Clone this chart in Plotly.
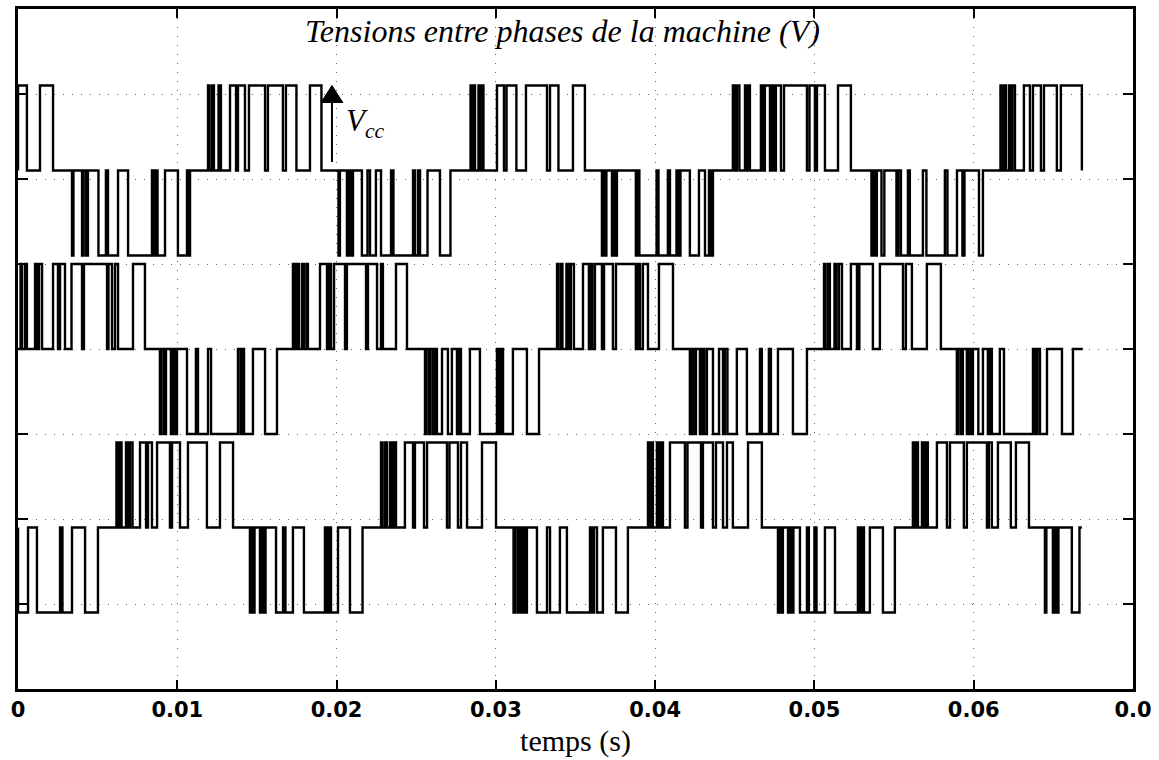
import plotly.graph_objects as go

# ---------------- axis ticks ----------------
x_tickvals = [0, 0.01, 0.02, 0.03, 0.04, 0.05, 0.06, 0.07]
x_ticktext = ["0", "0.01", "0.02", "0.03", "0.04", "0.05", "0.06", "0.0"]
y_tickvals = [-3, -2, -1, 0, 1, 2, 3]

# vertical offsets of the three line-to-line voltages (in units of Vcc)
offsets = [2.1, 0.0, -2.1]
# end time of the recorded traces (ms)
t_end_ms = [66.79, 66.85, 66.79]

# ---------------- PWM pulses ----------------
# (start ms, end ms, level in Vcc)
vab_pulses = [
    (0.00, 0.56, 1), (1.38, 2.20, 1),
    (3.39, 3.48, -1), (4.02, 4.11, -1), (4.27, 4.39, -1), (5.05, 5.52, -1), (5.65, 6.28, -1),
    (6.91, 8.41, -1), (8.54, 8.64, -1), (8.76, 9.23, -1), (10.04, 10.61, -1), (10.68, 10.80, -1),
    (11.93, 12.02, 1), (12.18, 12.30, 1), (12.59, 12.74, 1), (13.31, 13.69, 1), (13.81, 14.25, 1),
    (14.50, 15.51, 1), (15.69, 16.63, 1), (16.82, 17.48, 1), (18.33, 19.05, 1),
    (20.12, 20.21, -1), (20.65, 20.78, -1), (20.90, 21.03, -1), (21.59, 21.94, -1), (22.10, 22.47, -1),
    (22.79, 23.42, -1), (23.57, 24.80, -1), (24.92, 25.11, -1), (25.24, 25.71, -1), (26.49, 27.15, -1),
    (28.41, 28.47, 1), (28.59, 28.69, 1), (28.91, 29.00, 1), (29.10, 29.22, 1), (30.07, 30.51, 1),
    (30.67, 31.29, 1), (31.89, 33.21, 1), (33.40, 33.93, 1), (34.84, 35.59, 1),
    (36.66, 36.75, -1), (36.85, 36.94, -1), (37.29, 37.38, -1), (37.48, 37.60, -1), (38.79, 38.89, -1),
    (39.01, 40.09, -1), (40.21, 40.80, -1), (40.93, 41.34, -1), (41.46, 41.59, -1), (42.18, 42.75, -1),
    (43.13, 43.38, -1), (43.50, 43.63, -1),
    (44.88, 44.98, 1), (45.13, 45.29, 1), (45.64, 45.73, 1), (45.83, 45.95, 1), (46.64, 46.77, 1),
    (46.89, 47.21, 1), (47.36, 47.46, 1), (47.58, 47.90, 1), (48.09, 49.53, 1), (49.69, 50.03, 1),
    (50.16, 50.66, 1), (51.48, 52.29, 1),
    (53.58, 53.67, -1), (53.80, 53.92, -1), (54.21, 54.39, -1), (55.15, 55.27, -1), (55.43, 55.87, -1),
    (55.99, 56.81, -1), (57.03, 58.19, -1), (58.35, 58.95, -1), (59.29, 59.42, -1), (60.33, 60.58, -1),
    (61.68, 61.77, 1), (61.90, 62.02, 1), (62.21, 62.30, 1), (62.43, 62.59, 1), (63.15, 63.53, 1),
    (63.72, 64.22, 1), (64.41, 65.22, 1), (65.47, 66.79, 1),
]

vbc_pulses = [
    (0.16, 0.25, 1), (0.44, 0.56, 1), (1.07, 1.19, 1), (1.32, 1.51, 1), (2.20, 2.51, 1),
    (2.64, 2.95, 1), (3.36, 4.02, 1), (4.14, 5.59, 1), (5.68, 5.90, 1), (6.09, 6.28, 1), (7.22, 7.97, 1),
    (8.91, 9.01, -1), (9.17, 9.29, -1), (9.60, 9.73, -1), (9.86, 9.98, -1), (10.61, 11.17, -1),
    (11.30, 11.93, -1), (12.12, 13.81, -1), (13.97, 14.06, -1), (14.19, 14.75, -1), (15.51, 16.26, -1),
    (17.26, 17.36, 1), (17.51, 17.64, 1), (17.83, 17.95, 1), (18.11, 18.20, 1), (18.96, 19.40, 1),
    (19.52, 19.65, 1), (19.84, 20.53, 1), (20.65, 21.85, 1), (21.97, 22.54, 1), (22.79, 22.91, 1),
    (23.73, 24.42, 1),
    (25.55, 25.64, -1), (25.80, 25.89, -1), (26.05, 26.18, -1), (26.30, 26.62, -1), (26.99, 27.24, -1),
    (27.56, 27.68, -1), (27.81, 28.37, -1), (29.00, 30.07, -1), (30.19, 30.32, -1), (30.45, 31.07, -1),
    (31.95, 32.71, -1),
    (33.84, 33.93, 1), (34.09, 34.18, 1), (34.43, 34.56, 1), (34.71, 34.90, 1), (35.47, 35.84, 1),
    (35.97, 36.06, 1), (36.22, 36.66, 1), (36.79, 37.35, 1), (37.54, 38.79, 1), (38.92, 39.05, 1),
    (39.23, 39.55, 1), (40.24, 41.12, 1),
    (42.18, 42.28, -1), (42.43, 42.56, -1), (42.81, 42.94, -1), (43.09, 43.25, -1), (43.63, 44.01, -1),
    (44.26, 44.38, -1), (44.54, 45.13, -1), (45.76, 46.58, -1), (46.70, 47.14, -1), (47.27, 47.71, -1),
    (48.65, 49.53, -1),
    (50.60, 50.69, 1), (50.85, 50.97, 1), (51.26, 51.38, 1), (51.54, 51.73, 1), (52.29, 52.67, 1),
    (52.82, 53.67, 1), (54.11, 55.56, 1), (55.74, 56.12, 1), (57.06, 57.94, 1),
    (58.94, 59.04, -1), (59.20, 59.32, -1), (59.57, 59.70, -1), (59.82, 59.95, -1), (60.29, 60.58, -1),
    (60.89, 61.02, -1), (61.14, 61.64, -1), (61.90, 63.72, -1), (63.87, 64.00, -1), (64.16, 64.60, -1),
    (65.54, 66.23, -1),
]

vca_pulses = [
    (0.00, 0.63, -1), (1.19, 2.64, -1), (2.79, 3.39, -1), (4.21, 5.02, -1),
    (6.18, 6.28, 1), (6.40, 6.50, 1), (6.78, 6.91, 1), (7.03, 7.19, 1), (7.66, 8.04, 1),
    (8.16, 8.41, 1), (8.73, 9.54, 1), (9.67, 10.17, 1), (10.67, 11.86, 1), (12.68, 13.50, 1),
    (14.56, 14.66, -1), (14.75, 14.85, -1), (15.19, 15.32, -1), (15.41, 15.54, -1), (16.20, 16.64, -1),
    (16.79, 17.26, -1), (17.95, 19.27, -1), (19.40, 19.52, -1), (19.65, 20.09, -1), (20.84, 21.63, -1),
    (22.79, 22.88, 1), (23.04, 23.16, 1), (23.35, 23.48, 1), (23.60, 23.73, 1), (24.29, 24.80, 1),
    (24.92, 25.49, 1), (25.68, 26.93, 1), (27.09, 27.62, 1), (27.81, 28.19, 1), (29.13, 30.01, 1),
    (31.11, 31.20, -1), (31.36, 31.48, -1), (31.57, 31.70, -1), (31.80, 31.95, -1), (32.58, 33.21, -1),
    (33.40, 34.02, -1), (34.46, 35.91, -1), (36.03, 36.16, -1), (36.35, 36.72, -1), (37.54, 38.29, -1),
    (39.55, 39.64, 1), (39.77, 39.86, 1), (40.11, 40.24, 1), (40.36, 40.49, 1), (40.93, 41.87, 1),
    (42.03, 42.88, 1), (43.00, 43.63, 1), (43.82, 44.26, 1), (44.51, 44.88, 1), (45.83, 46.70, 1),
    (47.71, 47.80, -1), (47.93, 48.02, -1), (48.34, 48.46, -1), (48.56, 48.68, -1), (49.09, 49.53, -1),
    (49.65, 50.00, -1), (50.13, 50.66, -1), (51.29, 52.73, -1), (52.86, 52.98, -1), (53.11, 53.48, -1),
    (54.30, 55.05, -1),
    (56.18, 56.28, 1), (56.40, 56.50, 1), (56.75, 56.87, 1), (57.00, 57.12, 1), (57.69, 58.32, 1),
    (58.51, 59.38, 1), (59.57, 60.83, 1), (60.95, 61.14, 1), (61.52, 62.33, 1), (62.65, 63.47, 1),
    (64.47, 64.56, -1), (64.97, 65.10, -1), (65.19, 65.32, -1), (66.16, 66.64, -1),
]

# Vcc arrow (data coordinates) and label
vcc_arrow_t = 0.01971
vcc_arrow_from = 2.2
vcc_arrow_base = 2.9
vcc_arrow_to = 3.1
vcc_head_halfwidth = 0.00068
vcc_label_t = 0.0218
vcc_label_v = 2.66


def build_trace(pulses, offset, t_end):
    xs, ys = [0.0], [offset]
    for on, off, lvl in pulses:
        xs += [on, on, off, off]
        ys += [offset, offset + lvl, offset + lvl, offset]
    xs.append(t_end)
    ys.append(offset)
    return [v / 1000.0 for v in xs], ys


fig = go.Figure()
for pulses, off, tend in zip([vab_pulses, vbc_pulses, vca_pulses], offsets, t_end_ms):
    xs, ys = build_trace(pulses, off, tend)
    fig.add_trace(go.Scatter(x=xs, y=ys, mode="lines",
                             line=dict(color="black", width=2.4),
                             hoverinfo="skip", showlegend=False))

# Vcc arrow: shaft + filled head
fig.add_shape(type="line", xref="x", yref="y",
              x0=vcc_arrow_t, x1=vcc_arrow_t, y0=vcc_arrow_from, y1=vcc_arrow_base,
              line=dict(color="black", width=2))
fig.add_shape(type="path", xref="x", yref="y",
              path=(f"M {vcc_arrow_t - vcc_head_halfwidth},{vcc_arrow_base} "
                    f"L {vcc_arrow_t + vcc_head_halfwidth},{vcc_arrow_base} "
                    f"L {vcc_arrow_t},{vcc_arrow_to} Z"),
              fillcolor="black", line=dict(color="black", width=1))
fig.add_annotation(x=vcc_label_t, y=vcc_label_v, xref="x", yref="y",
                   text="<i>V<sub>cc</sub></i>", showarrow=False,
                   font=dict(family="Liberation Serif", size=31, color="black"))

fig.add_annotation(x=0.488, y=0.968, xref="paper", yref="paper",
                   text="<i>Tensions entre phases de la machine (V)</i>",
                   showarrow=False, xanchor="center", yanchor="middle",
                   font=dict(family="Liberation Serif", size=32, color="black"))

fig.update_layout(
    width=1159, height=760,
    margin=dict(l=18, r=26, t=9, b=71, autoexpand=False),
    paper_bgcolor="white", plot_bgcolor="white",
    showlegend=False,
    xaxis=dict(
        range=[0, 0.07], tickvals=x_tickvals, ticktext=x_ticktext,
        ticks="inside", ticklen=9, tickwidth=2, tickcolor="black",
        showline=True, linecolor="black", linewidth=2.5, mirror="allticks",
        showgrid=True, gridcolor="#666666", gridwidth=1, griddash="1px,8px",
        zeroline=False, automargin=False,
        tickfont=dict(family="DejaVu Sans", size=21, color="black", weight="bold"),
        title=dict(text="temps (s)", standoff=10,
                   font=dict(family="Liberation Serif", size=30, color="black")),
    ),
    yaxis=dict(
        range=[-4, 4], tickvals=y_tickvals, showticklabels=False,
        ticks="inside", ticklen=10, tickwidth=2, tickcolor="black",
        showline=True, linecolor="black", linewidth=2.5, mirror="allticks",
        showgrid=True, gridcolor="#666666", gridwidth=1, griddash="1px,8px",
        zeroline=False, automargin=False,
    ),
)

fig.write_html("out.html")
